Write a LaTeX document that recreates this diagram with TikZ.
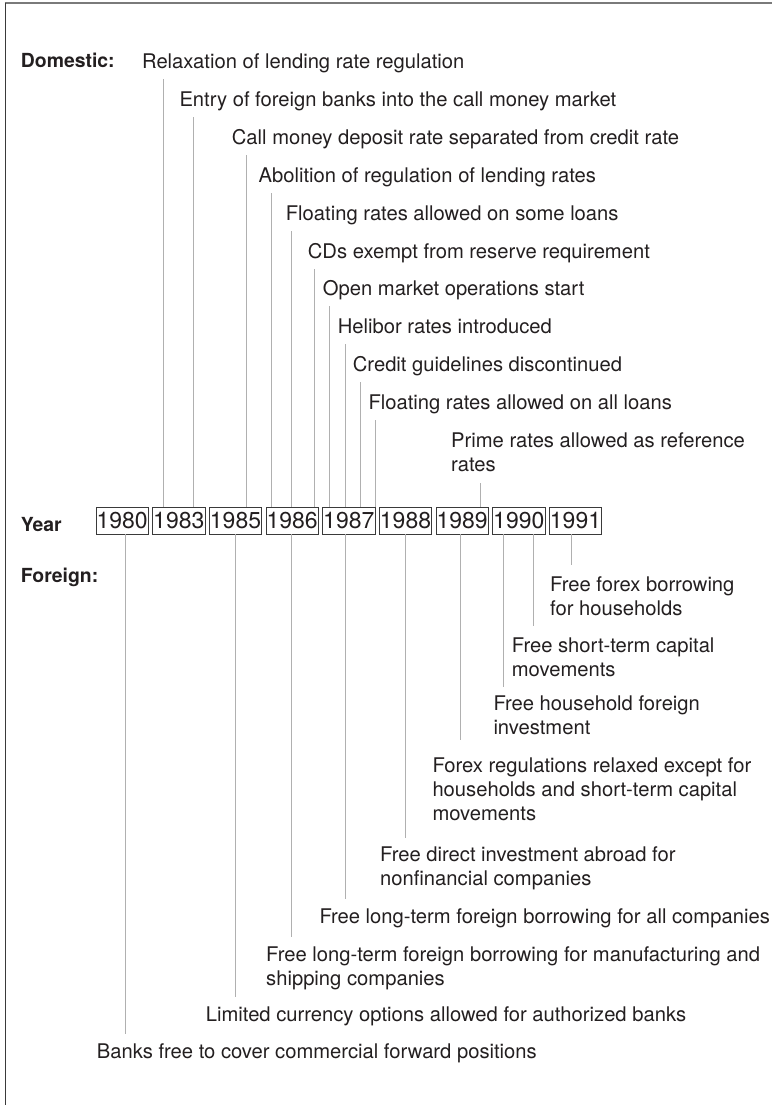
\documentclass[tikz,border=0pt]{standalone}
\usepackage{fontspec}
\setmainfont{TeX Gyre Heros}
\usetikzlibrary{calc}
\definecolor{txt}{HTML}{231F20}
\definecolor{conn}{HTML}{B0B0B0}
\definecolor{boxc}{HTML}{3A3A3A}
\definecolor{framec}{HTML}{7A7A7A}
\newcommand\uplink[4]{\path ($(#1.north west)+(#2,0)$) coordinate (la) ($(#3.north west)+(0,#4)$) coordinate (lb); \draw[link] (la) -- (la |- lb);}
\newcommand\downlink[4]{\path ($(#1.south west)+(#2,0)$) coordinate (la) ($(#3.north west)+(0,-#4)$) coordinate (lb); \draw[link] (la) -- (la |- lb);}
\begin{document}
\begin{tikzpicture}[x=1pt,y=-1pt,
  ev/.style={anchor=north west, inner sep=0pt, align=left, font=\fontsize{20.2}{24}\selectfont, text=txt},
  lab/.style={anchor=base west, inner sep=0pt, font=\fontsize{19.4}{24}\selectfont\bfseries, text=txt},
  yr/.style={draw=boxc, line width=0.9pt, minimum width=52.3pt, minimum height=27pt, inner sep=0pt, font=\fontsize{23}{24}\selectfont, text=txt},
  link/.style={draw=conn, line width=1pt},
  frametop/.style={draw=framec, line width=1.6pt},
  frameleft/.style={draw=boxc, line width=1pt}]
\useasboundingbox (0,0) rectangle (772,1105);
\draw[frametop] (4.5,3) -- (772,3);
\draw[frameleft] (5,3) -- (5,1105);

% labels
\node[lab] (ldom) at (20.7,68) {Domestic:};
\node[lab] (lyear) at (20.7,531) {Year};
\node[lab] (lfor) at (20.7,582) {Foreign:};

% year boxes
\node[yr] (y1980) at (122.2,520.5) {1980};
\node[yr] (y1983) at (178.8,520.5) {1983};
\node[yr] (y1985) at (235.5,520.5) {1985};
\node[yr] (y1986) at (292.2,520.5) {1986};
\node[yr] (y1987) at (348.8,520.5) {1987};
\node[yr] (y1988) at (405.5,520.5) {1988};
\node[yr] (y1989) at (462.2,520.5) {1989};
\node[yr] (y1990) at (518.8,520.5) {1990};
\node[yr] (y1991) at (575.5,520.5) {1991};

% domestic events
\node[ev] (d1) at (141.9,53.5) {Relaxation of lending rate regulation};
\node[ev] (d2) at (179.3,91.5) {Entry of foreign banks into the call money market};
\node[ev] (d3) at (231.7,129.5) {Call money deposit rate separated from credit rate};
\node[ev] (d4) at (258.3,167.5) {Abolition of regulation of lending rates};
\node[ev] (d5) at (285.7,205.5) {Floating rates allowed on some loans};
\node[ev] (d6) at (307.7,243) {CDs exempt from reserve requirement};
\node[ev] (d7) at (322.7,280.5) {Open market operations start};
\node[ev] (d8) at (337.7,318.2) {Helibor rates introduced};
\node[ev] (d9) at (352.7,356.2) {Credit guidelines discontinued};
\node[ev] (d10) at (368.3,394.8) {Floating rates allowed on all loans};
\node[ev] (d11) at (451,432.2) {Prime rates allowed as reference\\rates};

% foreign events
\node[ev] (f1) at (550,576.5) {Free forex borrowing\\for households};
\node[ev] (f2) at (511.7,637.2) {Free short-term capital\\movements};
\node[ev] (f3) at (493.3,695.5) {Free household foreign\\investment};
\node[ev] (f4) at (432.3,757.2) {Forex regulations relaxed except for\\households and short-term capital\\movements};
\node[ev] (f5) at (380,846.8) {Free direct investment abroad for\\nonfinancial companies};
\node[ev] (f6) at (319.3,908.2) {Free long-term foreign borrowing for all companies};
\node[ev] (f7) at (266,946.5) {Free long-term foreign borrowing for manufacturing and\\shipping companies};
\node[ev] (f8) at (205.7,1006.5) {Limited currency options allowed for authorized banks};
\node[ev] (f9) at (96.7,1043.8) {Banks free to cover commercial forward positions};

% domestic connectors
\uplink{y1983}{11}{d1}{25.5}
\uplink{y1983}{41.3}{d2}{25.5}
\uplink{y1985}{37.7}{d3}{25.5}
\uplink{y1986}{5.7}{d4}{25.5}
\uplink{y1986}{26.3}{d5}{25.5}
\uplink{y1986}{49}{d6}{25.5}
\uplink{y1987}{7.3}{d7}{25.5}
\uplink{y1987}{23}{d8}{25.5}
\uplink{y1987}{38}{d9}{25.5}
\uplink{y1987}{53}{d10}{25.5}
\uplink{y1989}{45}{d11}{51}

% foreign connectors
\downlink{y1991}{22.4}{f1}{11.5}
\downlink{y1990}{41.3}{f2}{11.2}
\downlink{y1990}{11.3}{f3}{8.2}
\downlink{y1989}{24.5}{f4}{17.2}
\downlink{y1988}{26.4}{f5}{8.5}
\downlink{y1987}{22.8}{f6}{9.2}
\downlink{y1986}{25.8}{f7}{9.8}
\downlink{y1985}{26.7}{f8}{9.8}
\downlink{y1980}{30}{f9}{9.8}
\end{tikzpicture}
\end{document}
